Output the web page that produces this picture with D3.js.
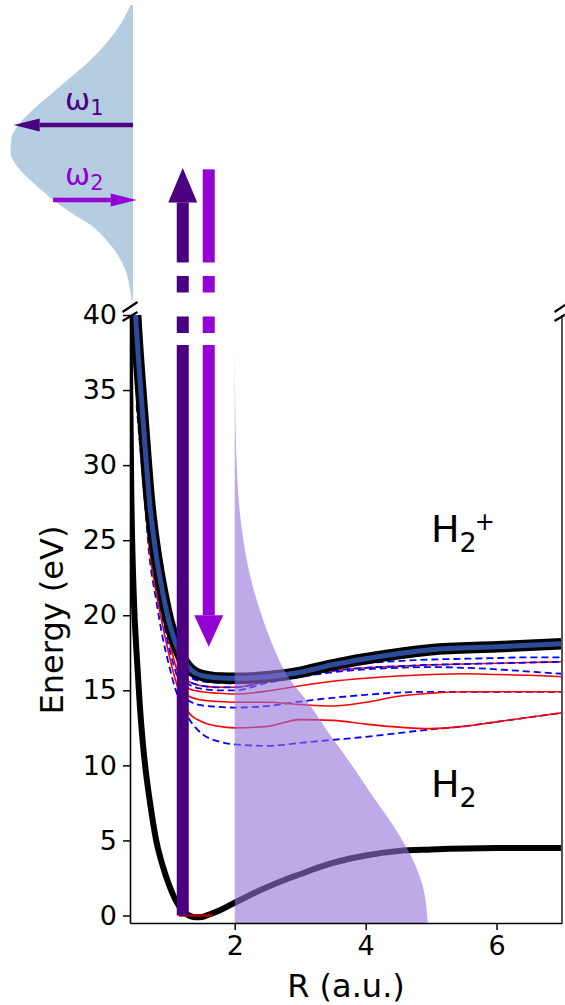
<!DOCTYPE html>
<html><head><meta charset="utf-8">
<script src="https://cdn.jsdelivr.net/npm/d3@7"></script>
<style>body{margin:0;background:#fff} svg{display:block} text{font-family:"DejaVu Sans",sans-serif;fill:#000}</style>
</head><body><svg id="c" width="565" height="1005"></svg>
<script>
// ---------------- data ----------------
// H2 ground state (R in a.u., E in eV)
const rH2 = [0.38,0.42,0.46,0.5,0.55,0.6,0.65,0.7,0.8,0.9,1.0,1.1,1.2,1.3,1.4,1.5,1.6,1.8,2.0,2.25,2.5,2.75,3.0,3.25,3.5,4.0,4.5,5.0,6.0,7.0];
const eH2 = [45,28,21,17.5,14,11.3,9.3,7.7,5.0,3.3,2.0,1.0,0.35,0.0,-0.12,-0.1,0.05,0.4,0.85,1.4,1.9,2.35,2.75,3.15,3.5,4.0,4.3,4.4,4.5,4.5];
// H2+ ground state
const rIon = [0.46,0.5,0.6,0.7,0.8,0.9,1.0,1.1,1.2,1.3,1.4,1.6,1.8,2.0,2.5,3.0,3.5,4.0,5.0,6.0,7.0];
const eIon = [42,39,33,27.5,24,21.5,19.5,18.1,17.1,16.5,16.15,15.9,15.82,15.8,15.9,16.2,16.7,17.1,17.7,17.9,18.1];
// dressed / excited curves on a shared R grid
const rGrid = [0.5,0.6,0.7,0.8,0.9,1.0,1.1,1.2,1.3,1.5,1.75,2.0,2.5,3.0,3.5,4.0,4.5,5.0,5.5,6.0,6.5,7.0];
const eC1 = [34,29,23.8,21,18.5,16.6,15.0,13.9,13.1,12.1,11.6,11.4,11.3,11.5,11.7,11.9,12.15,12.4,12.6,12.9,13.2,13.5];
const eC2 = [35,29.5,24.3,21.5,19.3,17.3,15.6,14.4,13.5,12.9,12.6,12.5,12.6,13.05,13.0,12.75,12.55,12.45,12.6,12.9,13.2,13.5];
const eC3 = [36,30,25,22,19.8,17.8,16.2,15.0,14.3,14.0,13.9,13.85,13.95,14.25,14.5,14.7,14.85,14.9,14.9,14.9,14.9,14.9];
const eC4 = [36.5,30.5,25.5,22.5,20.3,18.3,16.6,15.3,14.6,14.35,14.25,14.2,14.2,14.05,13.95,14.2,14.6,14.8,14.9,14.9,14.9,14.9];
const eC5 = [37.5,31.5,26.5,23.3,21,19,17.3,15.9,15.1,14.9,14.8,14.75,14.95,15.3,15.6,15.8,15.95,16.05,16.1,16.05,16.0,15.9];
const eC6 = [38,32,27,23.7,21.3,19.3,17.6,16.2,15.4,15.1,15.0,15.0,15.5,15.9,16.2,16.4,16.5,16.55,16.5,16.4,16.25,16.1];
const eC7 = [38.5,32.5,27.3,24,21.6,19.5,17.9,16.5,15.6,15.3,15.2,15.2,15.6,16.0,16.3,16.5,16.6,16.7,16.75,16.8,16.85,16.9];
const eC8 = [41,35.5,30,26,23.2,20.5,18.5,16.9,15.9,15.6,15.5,15.45,15.8,16.2,16.55,16.8,16.95,17.05,17.1,17.15,17.2,17.2];
const thinSeries = [
  {e:eC1, kind:"blue"}, {e:eC2, kind:"red"}, {e:eC3, kind:"blue"}, {e:eC4, kind:"red"},
  {e:eC5, kind:"red"}, {e:eC6, kind:"blue"}, {e:eC7, kind:"red"}, {e:eC7, kind:"blue"}, {e:eC8, kind:"blue"}
];
// ground vibrational level
const groundR = [1.15, 1.67];
const groundE = [0, 0];
// nuclear wavepacket (shaded), width beyond R = 2 versus energy
const packetStart = 2;
const packetE = [-1,-0.5,2,4,6,8,10,12,14,16,18,20,22,24,26,28,30,32,34,36,38];
const packetW = [2.96,2.95,2.87,2.69,2.42,2.1,1.79,1.46,1.15,0.8,0.58,0.41,0.27,0.17,0.1,0.055,0.03,0.015,0.007,0.003,0];
// pump (up) and probe (down) arrows, energies of bar pieces
const pumpR = 1.206, probeR = 1.603;
const pumpSegs = [[0,38],[38.8,39.9],[41.5,42.6],[43.5,47.5]];
const pumpHead = [47.5, 49.8];
const probeSegs = [[20,38],[38.8,39.9],[41.5,42.6],[43.5,49.7]];
const probeHead = [20.0, 17.9];
// pulse spectrum (inset)
const specW = [0,0.05,0.1,0.15,0.2,0.25,0.3,0.35,0.4,0.45,0.5,0.55,0.6,0.65,0.7,0.75,0.8,0.85,0.9,0.95,1.0];
const specI = [0.01,0.03,0.06,0.12,0.21,0.33,0.52,0.68,0.82,0.936,0.995,0.988,0.918,0.8,0.66,0.52,0.38,0.26,0.16,0.08,0.02];
const omegaArrows = [
  {w:0.593, from:0, to:0.97, color:"#4b0082", sub:"1"},
  {w:0.339, from:0.65, to:-0.03, color:"#9400d3", sub:"2"}
];
const yTicks = [0,5,10,15,20,25,30,35,40];
const xTicks = [2,4,6];

// ---------------- drawing ----------------
const svg = d3.select("#c");
const x = d3.scaleLinear().domain([0.4,7]).range([130,562]);
const y = d3.scaleLinear().domain([-0.5,40]).range([923,315]);
const INDIGO = "#4b0082", VIOLET = "#9400d3";

svg.append("defs").append("clipPath").attr("id","clip")
  .append("rect").attr("x",130).attr("y",315).attr("width",432).attr("height",608);
const plot = svg.append("g").attr("clip-path","url(#clip)");
const line = d3.line().curve(d3.curveMonotoneX);
const pts = (rs, es) => rs.map((r,i)=>[x(r), y(es[i])]);

// H2
plot.append("path").attr("d", line(pts(rH2,eH2))).attr("fill","none")
  .attr("stroke","#000").attr("stroke-width",6).attr("stroke-linecap","round");
// thin curves
thinSeries.forEach(s=>{
  const p = plot.append("path").attr("d", line(pts(rGrid,s.e))).attr("fill","none");
  if(s.kind==="red") p.attr("stroke","#ff0000").attr("stroke-width",1.6);
  else p.attr("stroke","#0000ff").attr("stroke-width",1.8).attr("stroke-dasharray","7,4");
});
// H2+
plot.append("path").attr("d", line(pts(rIon,eIon))).attr("fill","none")
  .attr("stroke","#000").attr("stroke-width",11.5);
plot.append("path").attr("d", line(pts(rIon,eIon))).attr("fill","none")
  .attr("stroke","#2b4c9b").attr("stroke-width",5);
// ground level
plot.append("path").attr("d", d3.line()(pts(groundR,groundE)))
  .attr("stroke","#b00000").attr("stroke-width",2.5);
// wavepacket
const packet = packetE.map((e,i)=>({e, w:packetW[i]}));
plot.append("path")
  .attr("d", d3.area().curve(d3.curveMonotoneY)
    .y(d=>y(d.e)).x0(x(packetStart)).x1(d=>x(packetStart+d.w))(packet))
  .attr("fill","#9370db").attr("fill-opacity",0.6);

// axes
const yAxis = svg.append("g").attr("transform","translate(130,0)")
  .call(d3.axisLeft(y).tickValues(yTicks).tickFormat(d3.format("d")).tickSize(7).tickPadding(6).tickSizeOuter(0));
const xAxis = svg.append("g").attr("transform","translate(0,923)")
  .call(d3.axisBottom(x).tickValues(xTicks).tickFormat(d3.format("d")).tickSize(7).tickPadding(6).tickSizeOuter(0));
[yAxis,xAxis].forEach(a=>{
  a.selectAll("text").attr("font-size",27).attr("font-family","DejaVu Sans").attr("fill","#000");
  a.selectAll("line").attr("stroke","#000").attr("stroke-width",1.5);
  a.select(".domain").attr("stroke","#000").attr("stroke-width",1.6);
});
svg.append("line").attr("x1",562).attr("x2",562).attr("y1",315).attr("y2",923)
  .attr("stroke","#555").attr("stroke-width",2);
// break marks
[130,562].forEach(bx=>{
  [[-3,-13],[6,-3]].forEach(([a,b])=>{
    svg.append("line").attr("x1",bx-7.5).attr("y1",315+a).attr("x2",bx+7.5).attr("y2",315+b)
      .attr("stroke","#000").attr("stroke-width",2.2);
  });
});

// axis labels
svg.append("text").attr("x",346).attr("y",997).attr("text-anchor","middle")
  .attr("font-size",32).text("R (a.u.)");
svg.append("text").attr("transform","translate(63,620) rotate(-90)").attr("text-anchor","middle")
  .attr("font-size",32).text("Energy (eV)");

// pump / probe arrows
const HALF_BAR = 6, HALF_HEAD = 14.5;
pumpSegs.forEach(([a,b])=>{
  svg.append("rect").attr("x",x(pumpR)-HALF_BAR).attr("width",2*HALF_BAR)
    .attr("y",y(b)).attr("height",y(a)-y(b)).attr("fill",INDIGO);
});
svg.append("path").attr("d",
  `M${x(pumpR)-HALF_HEAD},${y(pumpHead[0])}L${x(pumpR)+HALF_HEAD},${y(pumpHead[0])}L${x(pumpR)},${y(pumpHead[1])}Z`)
  .attr("fill",INDIGO);
probeSegs.forEach(([a,b])=>{
  svg.append("rect").attr("x",x(probeR)-HALF_BAR).attr("width",2*HALF_BAR)
    .attr("y",y(b)).attr("height",y(a)-y(b)).attr("fill",VIOLET);
});
svg.append("path").attr("d",
  `M${x(probeR)-HALF_HEAD},${y(probeHead[0])}L${x(probeR)+HALF_HEAD},${y(probeHead[0])}L${x(probeR)},${y(probeHead[1])}Z`)
  .attr("fill",VIOLET);

// state labels (single text element each, with tspans)
function label(xp, yb, sup){
  const t = svg.append("text").attr("x",xp).attr("y",yb).attr("font-size",38);
  t.append("tspan").text("H");
  t.append("tspan").attr("font-size",27).attr("dy",10).text("2");
  if(sup) t.append("tspan").attr("font-size",24).attr("dx",-2).attr("dy",-22).text(sup);
}
label(431, 542, "+");
label(431, 797, null);

// inset spectrum
const sx = d3.scaleLinear().domain([0,1]).range([133,10]);
const sy = d3.scaleLinear().domain([0,1]).range([300,5]);
const spec = specW.map((w,i)=>({w, v:specI[i]}));
svg.append("path")
  .attr("d", d3.area().curve(d3.curveMonotoneY).y(d=>sy(d.w)).x0(sx(0)).x1(d=>sx(d.v))(spec))
  .attr("fill","#4682b4").attr("fill-opacity",0.4);
omegaArrows.forEach(a=>{
  const y0 = sy(a.w), x0 = sx(a.from), x1 = sx(a.to);
  const dir = Math.sign(x1-x0), HL = 26, HW = 6.5;
  svg.append("line").attr("x1",x0).attr("x2",x1-dir*HL).attr("y1",y0).attr("y2",y0)
    .attr("stroke",a.color).attr("stroke-width",4.5);
  svg.append("path").attr("d",`M${x1-dir*HL},${y0-HW}L${x1},${y0}L${x1-dir*HL},${y0+HW}Z`).attr("fill",a.color);
  const t = svg.append("text").attr("x",65).attr("y",y0-15).attr("font-size",30).style("fill",a.color);
  t.append("tspan").text("ω");
  t.append("tspan").attr("font-size",21).attr("dy",5).text(a.sub);
});
</script></body></html>
